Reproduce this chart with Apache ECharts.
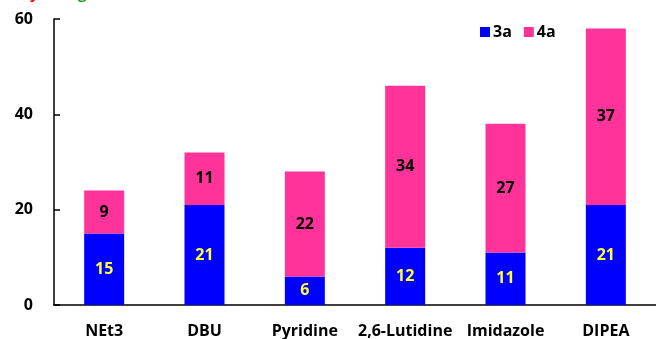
<!DOCTYPE html>
<html>
<head>
<meta charset="utf-8">
<script src="https://cdn.jsdelivr.net/npm/echarts@6/dist/echarts.min.js"></script>
<style>
  html, body { margin: 0; padding: 0; background: #fff; }
  #chart { width: 656px; height: 339px; }
</style>
</head>
<body>
<div id="chart"></div>
<script>
// Bases screened and product yields (%)
const bases = ['NEt3', 'DBU', 'Pyridine', '2,6-Lutidine', 'Imidazole', 'DIPEA'];
const yield3a = [15, 21, 6, 12, 11, 21];
const yield4a = [9, 11, 22, 34, 27, 37];
const yTicks = [0, 20, 40, 60];

const FONT = '"Open Sans", Lato, sans-serif';
const FS = 16;

const chart = echarts.init(document.getElementById('chart'), null, { renderer: 'canvas' });

chart.setOption({
  animation: false,
  backgroundColor: '#ffffff',
  textStyle: { fontFamily: FONT },
  grid: { left: 54, right: -9, top: 19, bottom: 34, containLabel: false },
  legend: {
    data: ['3a', '4a'],
    left: 475,
    top: 19,
    itemWidth: 10,
    itemHeight: 10,
    itemGap: 12,
    icon: 'rect',
    textStyle: { fontFamily: FONT, fontWeight: 'bold', fontSize: FS, color: '#000', padding: [0, 0, 0, -2] }
  },
  xAxis: {
    type: 'category',
    data: bases,
    axisLine: { show: true, lineStyle: { color: '#000', width: 1.5 } },
    axisTick: { show: false },
    axisLabel: {
      color: '#000', fontFamily: FONT, fontWeight: 'bold', fontSize: FS,
      margin: 18, interval: 0
    }
  },
  yAxis: {
    type: 'value',
    min: yTicks[0],
    max: yTicks[yTicks.length - 1],
    interval: 20,
    splitLine: { show: false },
    axisLine: { show: true, lineStyle: { color: '#000', width: 1.5 } },
    axisTick: { show: true, inside: true, length: 6, lineStyle: { color: '#000', width: 1.5 } },
    axisLabel: {
      color: '#000', fontFamily: FONT, fontWeight: 'bold', fontSize: FS, margin: 21
    }
  },
  series: [
    {
      name: '3a',
      type: 'bar',
      stack: 'yield',
      barWidth: 40,
      data: yield3a,
      itemStyle: { color: '#0000ff' },
      label: {
        show: true, position: 'inside',
        color: '#ffff33', fontFamily: FONT, fontWeight: 'bold', fontSize: FS
      }
    },
    {
      name: '4a',
      type: 'bar',
      stack: 'yield',
      barWidth: 40,
      data: yield4a,
      itemStyle: { color: '#ff3399' },
      label: {
        show: true, position: 'inside',
        color: '#000', fontFamily: FONT, fontWeight: 'bold', fontSize: FS
      }
    }
  ],
  graphic: [
    {
      type: 'text', left: 30, top: -13,
      style: { text: 'y', fill: '#ff0000', font: 'bold 15px ' + FONT }
    },
    {
      type: 'text', left: 78, top: -13,
      style: { text: 'g', fill: '#1a9a1a', font: 'bold 15px ' + FONT }
    }
  ]
});
</script>
</body>
</html>
